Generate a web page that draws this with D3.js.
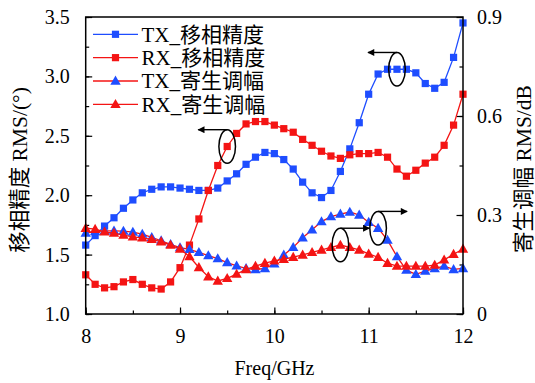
<!DOCTYPE html>
<html>
<head>
<meta charset="utf-8">
<script src="https://cdn.jsdelivr.net/npm/d3@7"></script>
<style>
html,body{margin:0;padding:0;background:#fff;}
svg text{font-family:"Liberation Serif","Times New Roman","Noto Sans CJK SC",serif;fill:#000;}
</style>
</head>
<body>
<svg id="chart" width="535" height="383"></svg>
<script>
// ---- data ----
const freq = [8.0,8.1,8.2,8.3,8.4,8.5,8.6,8.7,8.8,8.9,9.0,9.1,9.2,9.3,9.4,9.5,9.6,9.7,9.8,9.9,
              10.0,10.1,10.2,10.3,10.4,10.5,10.6,10.7,10.8,10.9,11.0,11.1,11.2,11.3,11.4,11.5,11.6,11.7,11.8,11.9,12.0];
const txPhase = [1.58,1.66,1.74,1.81,1.89,1.96,2.02,2.05,2.07,2.07,2.06,
                 2.05,2.04,2.04,2.06,2.12,2.18,2.26,2.32,2.36,
                 2.35,2.30,2.22,2.11,2.02,1.98,2.04,2.20,2.39,2.61,
                 2.85,3.02,3.06,3.06,3.06,3.03,2.94,2.90,2.95,3.16,3.45];
const rxPhase = [1.33,1.25,1.22,1.23,1.27,1.29,1.25,1.22,1.21,1.27,1.39,
                 1.58,1.80,2.04,2.25,2.41,2.52,2.60,2.62,2.62,
                 2.59,2.56,2.53,2.47,2.42,2.37,2.33,2.31,2.34,2.35,
                 2.35,2.36,2.32,2.22,2.16,2.21,2.27,2.32,2.42,2.59,2.85];
const txPara = [0.245,0.250,0.252,0.252,0.251,0.248,0.242,0.232,0.222,0.211,0.201,
                0.196,0.187,0.177,0.168,0.156,0.146,0.138,0.135,0.138,
                0.152,0.179,0.202,0.231,0.255,0.280,0.295,0.303,0.309,0.300,
                0.278,0.260,0.224,0.174,0.133,0.120,0.130,0.138,0.145,0.135,0.138];
const rxPara = [0.260,0.257,0.249,0.245,0.239,0.234,0.231,0.226,0.219,0.209,0.197,
                0.174,0.141,0.113,0.100,0.108,0.121,0.135,0.145,0.154,
                0.161,0.166,0.172,0.179,0.187,0.194,0.202,0.209,0.202,0.194,
                0.182,0.172,0.154,0.145,0.145,0.145,0.145,0.148,0.164,0.181,0.197];
const seriesNames = ["TX_移相精度","RX_移相精度","TX_寄生调幅","RX_寄生调幅"];
const xTicks = [8,9,10,11,12];
const yLeftTicks = [1.0,1.5,2.0,2.5,3.0,3.5];
const yRightTicks = [0,0.3,0.6,0.9];
const xLabel = "Freq/GHz";
const yLeftLabel = "移相精度 RMS/(°)";
const yRightLabel = "寄生调幅 RMS/dB";
// annotations: [x, value, axis, direction]
const notes = [[9.5,2.41,"L",-1],[11.3,3.06,"L",-1],[10.7,0.209,"R",1],[11.1,0.26,"R",1]];

// ---- layout ----
const L = 85.7, R = 463, T = 17, B = 314;
const BLUE = "#1e4dff", RED = "#f41414";
const svg = d3.select("#chart");
const x = d3.scaleLinear().domain([8,12]).range([L,R]);
const yL = d3.scaleLinear().domain([1,3.5]).range([B,T]);
const yR = d3.scaleLinear().domain([0,0.9]).range([B,T]);

const series = [
  {name:seriesNames[0], vals:txPhase, y:yL, line:BLUE, mark:BLUE, shape:"sq"},
  {name:seriesNames[1], vals:rxPhase, y:yL, line:RED, mark:RED, shape:"sq"},
  {name:seriesNames[2], vals:txPara, y:yR, line:RED, mark:BLUE, shape:"tri"},
  {name:seriesNames[3], vals:rxPara, y:yR, line:RED, mark:RED, shape:"tri"}
];

function drawMark(g, shape, color, cx, cy){
  if(shape==="sq"){
    g.append("rect").attr("x",cx-3.6).attr("y",cy-3.6).attr("width",7.2).attr("height",7.2).attr("fill",color);
  } else {
    g.append("path").attr("d",`M${cx},${cy-5.4}L${cx+5.2},${cy+3.7}L${cx-5.2},${cy+3.7}Z`).attr("fill",color);
  }
}

// axes with inward ticks
const fs = "20px";
function styleAxis(g){ g.select(".domain").remove(); g.selectAll("text").style("font-size",fs); g.selectAll("line").attr("stroke","#000").attr("stroke-width",1.2); }
svg.append("g").attr("transform",`translate(0,${B})`)
  .call(d3.axisBottom(x).tickValues(d3.range(8,12.01,0.5)).tickSize(-3.5).tickFormat(""))
  .call(styleAxis);
svg.append("g").attr("transform",`translate(0,${B})`)
  .call(d3.axisBottom(x).tickValues(xTicks).tickSize(-6.5).tickPadding(15).tickFormat(d3.format("d")))
  .call(styleAxis);
svg.append("g").attr("transform",`translate(${L},0)`)
  .call(d3.axisLeft(yL).tickValues(d3.range(1,3.51,0.25)).tickSize(-3.5).tickFormat(""))
  .call(styleAxis);
svg.append("g").attr("transform",`translate(${L},0)`)
  .call(d3.axisLeft(yL).tickValues(yLeftTicks).tickSize(-6.5).tickPadding(16).tickFormat(d3.format(".1f")))
  .call(styleAxis);
svg.append("g").attr("transform",`translate(${R},0)`)
  .call(d3.axisRight(yR).tickValues(d3.range(0,0.91,0.15)).tickSize(-3.5).tickFormat(""))
  .call(styleAxis);
svg.append("g").attr("transform",`translate(${R},0)`)
  .call(d3.axisRight(yR).tickValues(yRightTicks).tickSize(-6.5).tickPadding(14).tickFormat(d=>d===0?"0":d3.format(".1f")(d)))
  .call(styleAxis);

// series
series.forEach(s=>{
  const g = svg.append("g");
  const line = d3.line().x((d,i)=>x(freq[i])).y(d=>s.y(d));
  g.append("path").datum(s.vals).attr("d",line).attr("fill","none").attr("stroke",s.line).attr("stroke-width",1.3);
  s.vals.forEach((v,i)=>drawMark(g,s.shape,s.mark,x(freq[i]),s.y(v)));
});

// frame
svg.append("rect").attr("x",L).attr("y",T).attr("width",R-L).attr("height",B-T)
  .attr("fill","none").attr("stroke","#000").attr("stroke-width",1.5);

// annotations
svg.append("defs").append("marker").attr("id","ah").attr("viewBox","0 0 10 10").attr("refX",9).attr("refY",5)
  .attr("markerWidth",9).attr("markerHeight",7).attr("markerUnits","userSpaceOnUse").attr("orient","auto")
  .append("path").attr("d","M0,0L10,5L0,10Z").attr("fill","#000");
notes.forEach(n=>{
  const cx = x(n[0]), cy = (n[2]==="L"?yL:yR)(n[1]);
  const rx = 8.3, ry = 16.8;
  svg.append("ellipse").attr("cx",cx).attr("cy",cy).attr("rx",rx).attr("ry",ry)
    .attr("fill","none").attr("stroke","#000").attr("stroke-width",1.5);
  svg.append("line").attr("x1",cx).attr("y1",cy-ry).attr("x2",cx+n[3]*29).attr("y2",cy-ry)
    .attr("stroke","#000").attr("stroke-width",1.4).attr("marker-end","url(#ah)");
});

// legend
const lg = svg.append("g");
series.forEach((s,i)=>{
  const yy = 34.3 + i*23.35;
  lg.append("line").attr("x1",93).attr("x2",138).attr("y1",yy).attr("y2",yy).attr("stroke",s.line).attr("stroke-width",1.3);
  drawMark(lg,s.shape,s.mark,115.5,yy);
  lg.append("text").attr("x",141.5).attr("y",yy+7.3).style("font-size","21px").text(s.name);
});

// axis titles
svg.append("text").attr("x",274.5).attr("y",375).attr("text-anchor","middle").style("font-size",fs).text(xLabel);
svg.append("text").attr("transform","translate(27,170) rotate(-90)").attr("text-anchor","middle").style("font-size","21.5px").text(yLeftLabel);
svg.append("text").attr("transform","translate(531,169) rotate(-90)").attr("text-anchor","middle").style("font-size","21.5px").text(yRightLabel);
</script>
</body>
</html>
